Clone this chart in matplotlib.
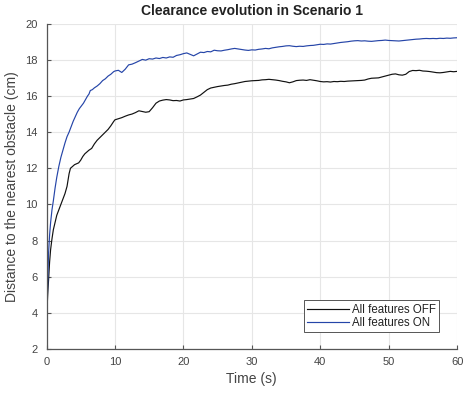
import matplotlib
matplotlib.use("Agg")
import matplotlib.pyplot as plt

# time (s) and clearance (cm)
t_on = [0, 0.1, 0.2, 0.3, 0.45, 0.6, 0.8, 1.0, 1.25, 1.5, 1.8, 2.1, 2.4, 2.7, 3.0,
        3.3, 3.6, 3.9, 4.2, 4.5, 4.8, 5.1, 5.4, 5.7, 6.0, 6.2, 6.4, 6.7, 7.0, 7.4,
        7.8, 8.2, 8.6, 9.0, 9.4, 9.8] + [10 + 0.5 * i for i in range(101)]
y_on = [3.3, 4.5, 6.0, 7.3, 8.3, 9.0, 9.7, 10.2, 10.9, 11.5, 12.1, 12.6, 13.0, 13.4, 13.75,
        14.0, 14.3, 14.6, 14.85, 15.1, 15.3, 15.45, 15.6, 15.8, 16.0, 16.1, 16.3, 16.35, 16.45, 16.55,
        16.68, 16.85, 16.95, 17.1, 17.2, 17.34,
        17.38, 17.42, 17.3, 17.48, 17.72, 17.76, 17.84, 17.93, 18.02, 17.98,
        18.06, 18.04, 18.1, 18.07, 18.13, 18.1, 18.16, 18.14, 18.24, 18.28,
        18.34, 18.38, 18.3, 18.22, 18.32, 18.42, 18.4, 18.46, 18.44, 18.53,
        18.5, 18.49, 18.53, 18.56, 18.6, 18.63, 18.6, 18.57, 18.54, 18.52,
        18.55, 18.54, 18.58, 18.6, 18.63, 18.61, 18.66, 18.69, 18.72, 18.74,
        18.77, 18.78, 18.75, 18.73, 18.75, 18.74, 18.77, 18.79, 18.8, 18.83,
        18.86, 18.85, 18.88, 18.87, 18.9, 18.93, 18.96, 18.98, 19.0, 19.03,
        19.05, 19.06, 19.04, 19.05, 19.03, 19.02, 19.04, 19.06, 19.07, 19.09,
        19.07, 19.06, 19.05, 19.04, 19.06, 19.08, 19.1, 19.12, 19.14, 19.15,
        19.17, 19.18, 19.17, 19.18, 19.17, 19.19, 19.18, 19.2, 19.19, 19.21,
        19.22]

t_off = [0, 0.1, 0.2, 0.3, 0.45, 0.6, 0.8, 1.0, 1.25, 1.5, 1.8, 2.1, 2.4, 2.7, 3.0,
         3.3, 3.5, 3.8, 4.1, 4.4, 4.7, 5.0, 5.3, 5.6, 5.9, 6.2, 6.6, 7.0, 7.4, 7.8,
         8.2, 8.6, 9.0, 9.4, 9.8] + [10 + 0.5 * i for i in range(101)]
y_off = [3.9, 4.4, 5.2, 5.8, 6.8, 7.5, 8.1, 8.6, 9.0, 9.4, 9.7, 10.0, 10.3, 10.6, 11.0,
         11.7, 12.0, 12.1, 12.2, 12.25, 12.3, 12.45, 12.65, 12.8, 12.9, 13.0, 13.1, 13.35, 13.55, 13.7,
         13.85, 14.0, 14.15, 14.35, 14.58,
         14.68, 14.74, 14.8, 14.88, 14.95, 15.0, 15.08, 15.18, 15.14, 15.1,
         15.13, 15.35, 15.6, 15.72, 15.77, 15.8, 15.78, 15.74, 15.75, 15.72,
         15.78, 15.8, 15.83, 15.86, 15.95, 16.05, 16.2, 16.35, 16.44, 16.48,
         16.52, 16.55, 16.58, 16.6, 16.65, 16.68, 16.72, 16.76, 16.8, 16.82,
         16.84, 16.85, 16.86, 16.89, 16.9, 16.92, 16.9, 16.88, 16.85, 16.81,
         16.78, 16.73, 16.78, 16.85, 16.87, 16.88, 16.86, 16.9, 16.87, 16.84,
         16.8, 16.78, 16.79, 16.77, 16.8, 16.79, 16.81, 16.8, 16.82, 16.83,
         16.84, 16.85, 16.86, 16.88, 16.94, 16.98, 16.99, 17.0, 17.05, 17.1,
         17.15, 17.2, 17.22, 17.17, 17.15, 17.2, 17.35, 17.41, 17.4, 17.42,
         17.38, 17.37, 17.35, 17.32, 17.29, 17.28, 17.3, 17.33, 17.36, 17.34,
         17.36]

plt.rcParams["font.family"] = ["Liberation Sans", "DejaVu Sans"]
txt = "#444444"

fig = plt.figure(figsize=(4.65, 3.94), dpi=100)
ax = fig.add_axes([0.1, 0.114, 0.883, 0.826])

ax.plot(t_off, y_off, color="#111111", lw=0.85, label="All features OFF")
ax.plot(t_on, y_on, color="#2545a8", lw=0.85, label="All features ON")

ax.set_xlim(0, 60)
ax.set_ylim(2, 20)
ax.set_xticks(range(0, 61, 10))
ax.set_yticks(range(2, 21, 2))
ax.grid(True, color="#e6e6e6", lw=0.8)
ax.set_axisbelow(True)
for s in ["top", "right"]:
    ax.spines[s].set_visible(False)
for s in ["left", "bottom"]:
    ax.spines[s].set_color("#555555")
    ax.spines[s].set_linewidth(0.9)
ax.tick_params(direction="in", length=3, width=0.8, colors="#555555",
               labelcolor=txt, labelsize=8)
ax.tick_params(axis="x", pad=6)
ax.tick_params(axis="y", pad=6.5)

ax.set_title("Clearance evolution in Scenario 1", fontsize=10, fontweight="bold", color="#222222", pad=6)
ax.set_xlabel("Time (s)", fontsize=10, color=txt, labelpad=3)
ax.set_ylabel("Distance to the nearest obstacle (cm)", fontsize=10, color=txt, labelpad=4)

leg = ax.legend(loc="lower right", fontsize=8.3, fancybox=False, framealpha=1,
                edgecolor="#555555", handlelength=3.6, handletextpad=0.3, borderpad=0.3,
                labelspacing=0.1, bbox_to_anchor=(0.971, 0.034))
leg.get_frame().set_linewidth(0.7)
for t in leg.get_texts():
    t.set_color("#222222")

fig.savefig("out.png", dpi=100)
